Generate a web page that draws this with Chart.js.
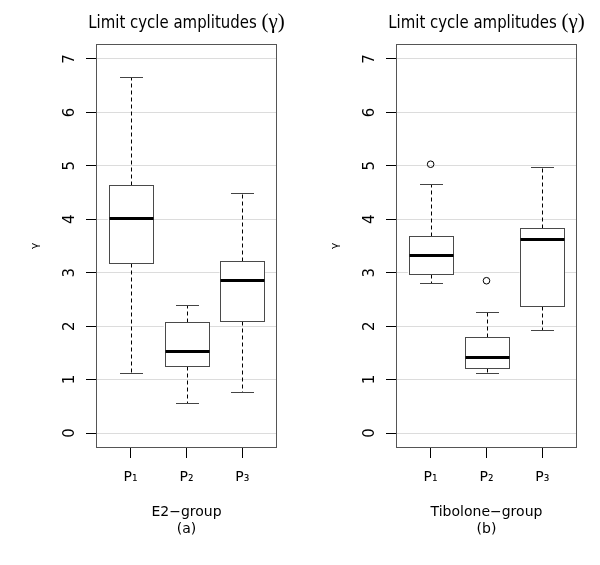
<!DOCTYPE html>
<html><head><meta charset="utf-8">
<script src="https://cdn.jsdelivr.net/npm/chart.js@4/dist/chart.umd.min.js"></script>
<style>
html,body{margin:0;padding:0;background:#fff;}
#wrap{position:relative;width:600px;height:565px;background:#fff;}
.panel{position:absolute;top:0;width:300px;height:565px;}
canvas{display:block;}
</style></head><body>
<div id="wrap">
<div class="panel" style="left:0"><canvas id="c1" width="300" height="565"></canvas></div>
<div class="panel" style="left:300px"><canvas id="c2" width="300" height="565"></canvas></div>
</div>
<script>
// ---- data ----
const categories = ['P\u2081', 'P\u2082', 'P\u2083'];
const xPositions = [1, 2, 3];
const yTicks = [0, 1, 2, 3, 4, 5, 6, 7];
const chartTitle = 'Limit cycle amplitudes ';
const chartTitleSymbol = '(\u03B3)';
const yLabel = '\u03B3';

// E2-group (a)
const e2Lower  = [1.13, 0.57, 0.77];
const e2Q1     = [3.18, 1.25, 2.09];
const e2Median = [4.03, 1.53, 2.87];
const e2Q3     = [4.64, 2.07, 3.22];
const e2Upper  = [6.67, 2.39, 4.49];
const e2Outliers = [[], [], []];

// Tibolone-group (b)
const tibLower  = [2.81, 1.12, 1.93];
const tibQ1     = [2.98, 1.22, 2.38];
const tibMedian = [3.34, 1.42, 3.64];
const tibQ3     = [3.69, 1.80, 3.83];
const tibUpper  = [4.66, 2.26, 4.97];
const tibOutliers = [[5.03], [2.85], []];

// ---- drawing ----
function boxPlugin(st) {
  return {
    id: 'boxExtras',
    afterDatasetsDraw(chart) {
      const {ctx, chartArea: a} = chart;
      const xs = chart.scales.x, ys = chart.scales.y;
      const px = v => Math.round(ys.getPixelForValue(v)) + 0.5;
      ctx.save();
      for (let i = 0; i < xPositions.length; i++) {
        const cx = Math.round(xs.getPixelForValue(xPositions[i])) + 0.5;
        const capHalf = xs.getPixelForValue(xPositions[i] + 0.2) - xs.getPixelForValue(xPositions[i]);
        const boxHalf = xs.getPixelForValue(xPositions[i] + 0.4) - xs.getPixelForValue(xPositions[i]);
        // whiskers (dashed)
        ctx.strokeStyle = '#000';
        ctx.lineWidth = 1;
        ctx.setLineDash([4, 3]);
        ctx.beginPath();
        ctx.moveTo(cx, px(st.q3[i])); ctx.lineTo(cx, px(st.upper[i]));
        ctx.moveTo(cx, px(st.q1[i])); ctx.lineTo(cx, px(st.lower[i]));
        ctx.stroke();
        ctx.setLineDash([]);
        // caps
        ctx.strokeStyle = '#444';
        ctx.beginPath();
        ctx.moveTo(Math.round(cx - capHalf), px(st.upper[i])); ctx.lineTo(Math.round(cx + capHalf), px(st.upper[i]));
        ctx.moveTo(Math.round(cx - capHalf), px(st.lower[i])); ctx.lineTo(Math.round(cx + capHalf), px(st.lower[i]));
        ctx.stroke();
        // box outline
        ctx.strokeStyle = '#4a4a4a';
        const bl = Math.round(cx - boxHalf) + 0.5, br = Math.round(cx + boxHalf) - 0.5;
        const bt = px(st.q3[i]), bb = px(st.q1[i]);
        ctx.strokeRect(bl, bt, br - bl, bb - bt);
        // median
        ctx.strokeStyle = '#000';
        ctx.lineWidth = 3;
        const my = Math.round(ys.getPixelForValue(st.median[i])) + 0.5;
        ctx.beginPath();
        ctx.moveTo(bl, my); ctx.lineTo(br, my);
        ctx.stroke();
      }
      // frame
      ctx.lineWidth = 1;
      ctx.strokeStyle = '#555';
      ctx.strokeRect(a.left + 0.5, a.top + 0.5, a.right - a.left - 1, a.bottom - a.top - 1);
      ctx.restore();
    },
    afterDraw(chart) {
      const {ctx, chartArea: a} = chart;
      const cx = (a.left + a.right) / 2;
      ctx.save();
      ctx.fillStyle = '#000';
      ctx.textBaseline = 'alphabetic';
      ctx.textAlign = 'left';
      const sx = 0.83;
      const sansFont = '18px "DejaVu Sans"';
      const serifFont = '21px "Liberation Serif"';
      ctx.font = sansFont;
      const w1 = ctx.measureText(chartTitle).width * sx;
      ctx.font = serifFont;
      const w2 = ctx.measureText(chartTitleSymbol).width;
      const start = cx - (w1 + w2) / 2;
      ctx.save();
      ctx.translate(start, 28);
      ctx.scale(sx, 1);
      ctx.font = sansFont;
      ctx.fillText(chartTitle, 0, 0);
      ctx.restore();
      ctx.font = serifFont;
      ctx.fillText(chartTitleSymbol, start + w1, 28);
      ctx.restore();
    }
  };
}

function makePanel(id, st, groupText) {
  const boxData = xPositions.map((x, i) => ({x: x, y: [st.q1[i], st.q3[i]]}));
  const outData = [];
  xPositions.forEach((x, i) => st.outliers[i].forEach(v => outData.push({x: x, y: v})));
  return new Chart(document.getElementById(id), {
    type: 'bar',
    data: {
      datasets: [
        {
          type: 'bar',
          data: boxData,
          backgroundColor: '#fff',
          borderWidth: 0,
          borderSkipped: false,
          barThickness: 45
        },
        {
          type: 'scatter',
          data: outData,
          pointStyle: 'circle',
          pointRadius: 3.3,
          pointBorderWidth: 1,
          pointBorderColor: '#000',
          pointBackgroundColor: 'rgba(0,0,0,0)'
        }
      ]
    },
    options: {
      responsive: false,
      animation: false,
      devicePixelRatio: 1,
      layout: {padding: {top: 44, right: 23, left: 0, bottom: 0}},
      plugins: {legend: {display: false}, tooltip: {enabled: false}, title: {display: false}},
      scales: {
        x: {
          type: 'linear',
          min: 0.38, max: 3.62,
          offset: false,
          afterBuildTicks: s => { s.ticks = xPositions.map(v => ({value: v})); },
          afterFit: s => { s.height = 117; },
          grid: {display: true, drawOnChartArea: false, drawTicks: true, tickLength: 10, tickColor: '#000', offset: false},
          border: {display: false},
          ticks: {
            autoSkip: false, maxRotation: 0, minRotation: 0, padding: 11,
            color: '#000', font: {family: '"DejaVu Sans"', size: 14},
            callback: (v, i) => categories[i]
          },
          title: {
            display: true, text: [groupText[0], groupText[1]],
            color: '#000', font: {family: '"DejaVu Sans"', size: 14},
            padding: {top: 0, bottom: 27}
          }
        },
        y: {
          type: 'linear',
          position: 'left',
          min: -0.28, max: 7.28,
          afterBuildTicks: s => { s.ticks = yTicks.map(v => ({value: v})); },
          afterFit: s => { s.width = 96; },
          grid: {color: '#dcdcdc', lineWidth: 1, drawTicks: true, tickLength: 10, tickColor: '#000'},
          border: {display: false},
          ticks: {
            autoSkip: false, minRotation: 90, maxRotation: 90, crossAlign: 'center', padding: 11,
            color: '#000', font: {family: '"DejaVu Sans"', size: 15},
            callback: v => String(v)
          },
          title: {
            display: true, text: yLabel, color: '#000',
            font: {family: '"DejaVu Sans"', size: 11},
            padding: {top: 29, bottom: 0}
          }
        }
      }
    },
    plugins: [boxPlugin(st)]
  });
}

makePanel('c1', {lower: e2Lower, q1: e2Q1, median: e2Median, q3: e2Q3, upper: e2Upper, outliers: e2Outliers},
  ['E2\u2212group', '(a)']);
makePanel('c2', {lower: tibLower, q1: tibQ1, median: tibMedian, q3: tibQ3, upper: tibUpper, outliers: tibOutliers},
  ['Tibolone\u2212group', '(b)']);
</script>
</body></html>
